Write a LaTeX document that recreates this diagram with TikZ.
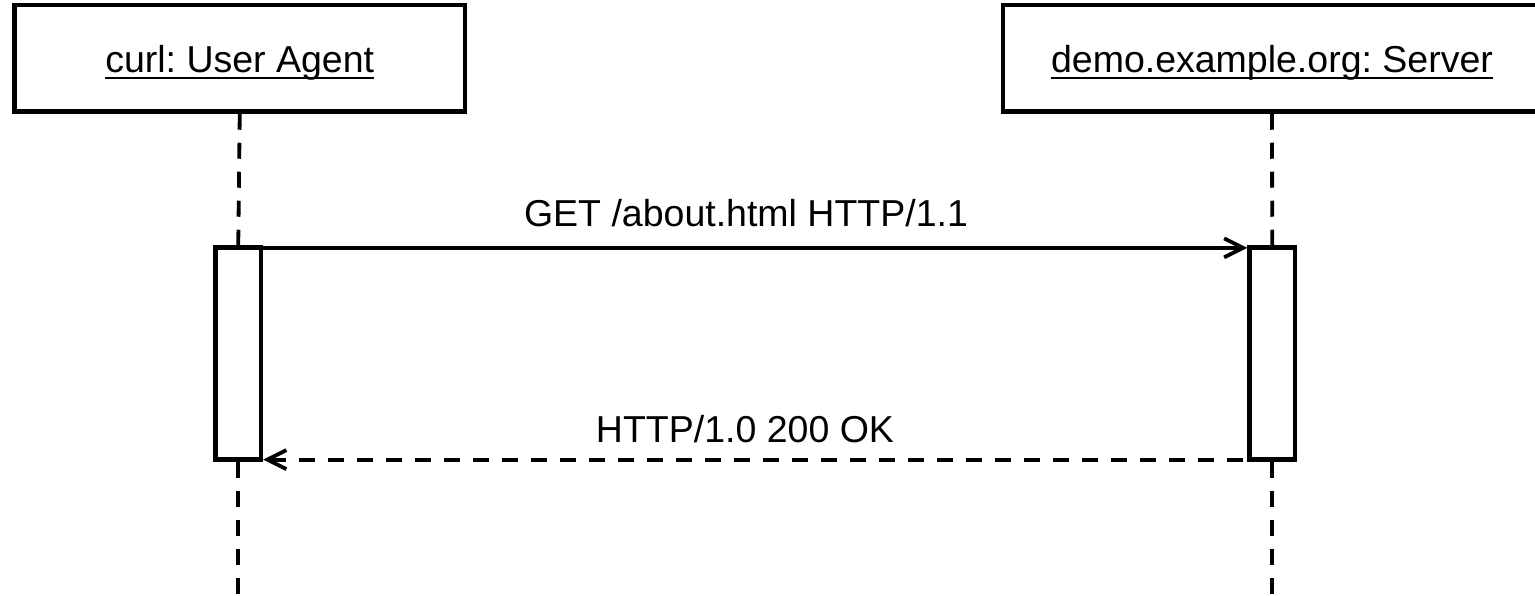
\documentclass[tikz,border=0pt]{standalone}
\usepackage{fontspec}
\setmainfont{Liberation Sans}
\usetikzlibrary{arrows.meta}
\frenchspacing

% underlined object name, rule drawn a little below the baseline
\newcommand\objname[1]{\setbox0\hbox{#1}\rlap{\rule[-6.5pt]{\wd0}{2.6pt}}\box0}

\tikzset{
  every node/.style={font=\fontsize{37.5pt}{45pt}\selectfont, inner sep=0pt},
  headbox/.style={draw, line width=4.5pt, rectangle, minimum height=106.5pt,
                  text height=29.5pt, text depth=0pt},
  actbox/.style={draw, line width=4.3pt, fill=white, rectangle,
                 minimum width=45.5pt, minimum height=212pt},
  lifeline/.style={line width=3.8pt, dash pattern=on 16pt off 13pt},
  msg/.style={line width=3.8pt, -{Straight Barb[length=19pt,width=19pt]}},
  reply/.style={msg, dash pattern=on 16pt off 13pt, dash phase=24.5pt},
}

\begin{document}
\begin{tikzpicture}[x=1pt, y=-1pt]
  \useasboundingbox (0,0) rectangle (1535,596);

  % participants
  \node[headbox, minimum width=450.5pt] (ua) at (239.75,58.25) {\objname{curl: User Agent}};
  \node[headbox, minimum width=538pt] (srv) at (1272,58.25) {\objname{demo.example.org: Server}};

  % activations
  \node[actbox] (actUA)  at (238.25,353.5) {};
  \node[actbox] (actSrv) at (1272.25,353.5) {};

  % lifelines
  \coordinate (endUA)  at (238.25,596);
  \coordinate (endSrv) at (1272.25,596);
  \draw[lifeline] (ua.south) -- (actUA.north);
  \draw[lifeline] (actUA.south) -- (endUA);
  \draw[lifeline] (srv.south |- ua.south) -- (actSrv.north);
  \draw[lifeline] (actSrv.south) -- (endSrv);

  % messages
  \path (actUA.north east) ++(0,2.5) coordinate (req);
  \draw[msg] (req) -- (req -| actSrv.west);
  \node[anchor=base] (reqLabel) at (746,227) {GET /about.html HTTP/1.1};

  \path (actSrv.south west) ++(0,-2) coordinate (resp);
  \draw[reply] (resp) -- (resp -| actUA.east);
  \node[anchor=base] (respLabel) at (745,442) {HTTP/1.0 200 OK};
\end{tikzpicture}
\end{document}
